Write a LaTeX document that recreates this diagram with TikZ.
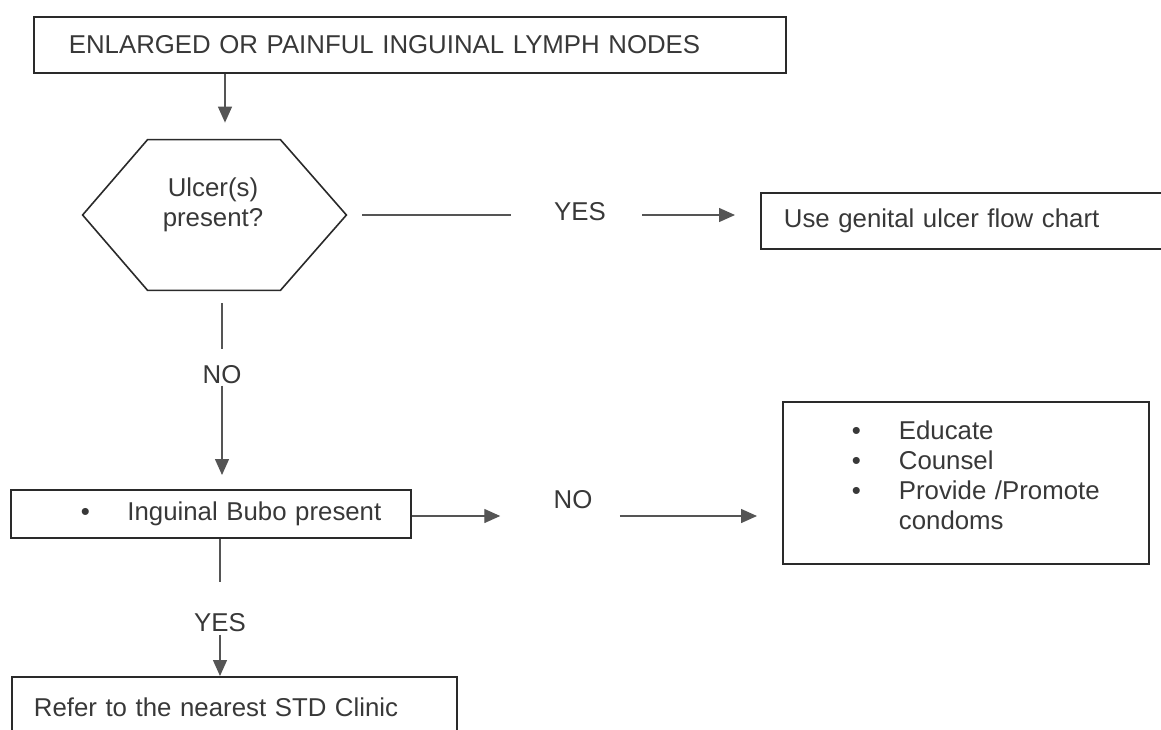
\documentclass[tikz,border=0pt]{standalone}
\usepackage{fontspec}
\setmainfont{Liberation Sans}
\usetikzlibrary{arrows.meta}
\definecolor{txtc}{HTML}{383838}
\definecolor{linec}{HTML}{2A2A2A}
\definecolor{connc}{HTML}{555555}
\begin{document}
\begin{tikzpicture}[x=0.5pt,y=-0.5pt,
  every node/.style={font=\fontsize{12.9}{15}\selectfont, text=txtc},
  box/.style={draw=linec, line width=0.9pt, inner xsep=0pt, inner ysep=0pt, anchor=north west, align=left},
  shapeline/.style={draw=linec, line width=0.8pt},
  lbl/.style={inner sep=0pt},
  conn/.style={draw=connc, line width=0.7pt},
  arr/.style={conn, -{Triangle[length=8pt,width=7pt]}},
]
\useasboundingbox (0,0) rectangle (1161,729);
\clip (0,0) rectangle (1161,729);

% boxes
\node[box, minimum width=376pt, minimum height=28pt, text width=376pt] (top) at (33,16)
  {\hspace*{17.5pt}ENLARGED OR PAINFUL INGUINAL LYMPH NODES};

\node[minimum width=131.5pt, minimum height=75pt, inner sep=0pt] (hex) at (214.5,215) {};
\draw[shapeline] (hex.west) -- ([xshift=32.5pt]hex.north west) -- ([xshift=-33pt]hex.north east)
  -- (hex.east) -- ([xshift=-33pt]hex.south east) -- ([xshift=32.5pt]hex.south west) -- cycle;
\node[lbl, align=center] (hext) at (213,205) {Ulcer(s)\\present?};

\node[box, minimum width=210pt, minimum height=28pt, text width=210pt] (box1) at (760,192)
  {\hspace*{11.5pt}\raisebox{3pt}{Use genital ulcer flow chart}};

\node[box, minimum width=200pt, minimum height=24pt, text width=200pt] (bubo) at (10,489)
  {\hspace*{35pt}\raisebox{-9pt}{\textbullet\hspace{18.75pt}Inguinal Bubo present}};

\node[box, minimum width=183pt, minimum height=81pt, text width=183pt] (box2) at (782,401)
  {\hspace*{34.5pt}\begin{tabular}{@{}l@{\hspace{19pt}}l@{}}
   \textbullet & Educate\\
   \textbullet & Counsel\\
   \textbullet & Provide /Promote\\
               & condoms
   \end{tabular}\\[3pt]\mbox{}};

\node[box, minimum width=222.5pt, minimum height=30pt, text width=222.5pt] (bottom) at (11,676)
  {\hspace*{11pt}Refer to the nearest STD Clinic};

% labels
\node[lbl] (yes1) at (580,212) {YES};
\node[lbl] (no1) at (222,375) {NO};
\node[lbl] (no2) at (573,500) {NO};
\node[lbl] (yes2) at (220,623) {YES};

\coordinate (ax1) at (225,100);
\coordinate (nrow) at (0,516);

% connectors
\draw[arr, shorten >=8.5pt] (top.south -| ax1) -- (hex.north -| ax1);
\draw[conn, shorten <=8pt, shorten >=21.5pt] (hex.east) -- (yes1.west |- hex.east);
\draw[arr, shorten <=18pt, shorten >=12.5pt] (yes1.east |- hex.east) -- (box1.west |- hex.east);
\draw[conn, shorten <=6.5pt, shorten >=8pt] (hex.south -| no1) -- (no1.north);
\draw[arr, shorten <=0.5pt, shorten >=7pt] (no1.south) -- (bubo.north -| no1);
\draw[arr, shorten >=26.5pt] (bubo.east |- nrow) -- (no2.west |- nrow);
\draw[arr, shorten <=13.5pt, shorten >=12.5pt] (no2.east |- nrow) -- (box2.west |- nrow);
\draw[conn, shorten >=15.5pt] (bubo.south -| yes2) -- (yes2.north);
\draw[arr, shorten <=1pt] (yes2.south) -- (bottom.north -| yes2);
\end{tikzpicture}
\end{document}
